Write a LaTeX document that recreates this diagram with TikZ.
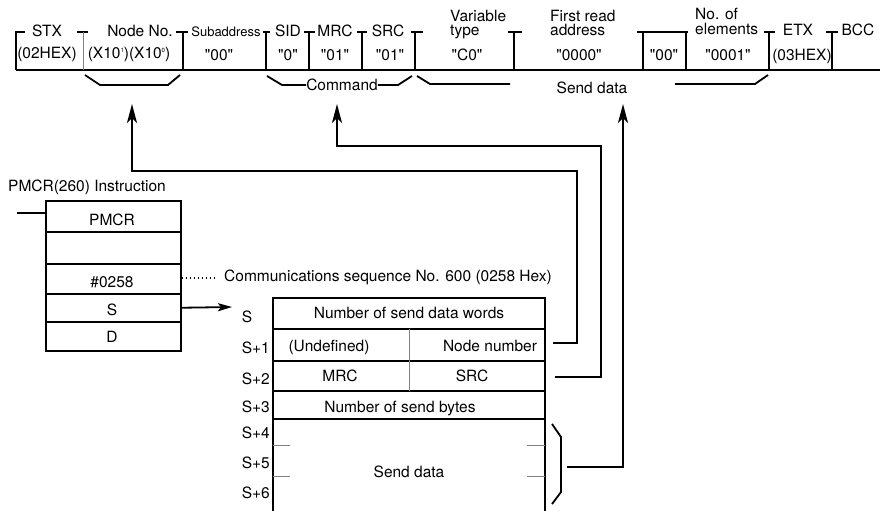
\documentclass[tikz,border=0pt]{standalone}
\usepackage{fontspec}
\setmainfont{TeX Gyre Heros}[Ligatures=TeXOff]
\usetikzlibrary{arrows.meta}
\begin{document}
\begin{tikzpicture}[x=1pt,y=-1pt,
  every node/.style={font=\fontsize{15.5}{18}\selectfont, inner sep=0pt, anchor=base},
  small/.style={font=\fontsize{13}{15}\selectfont},
  frame/.style={line width=1.7pt},
  sep/.style={line width=1.3pt},
  gsep/.style={line width=1pt, draw=gray},
  brace/.style={line width=1.8pt},
  conn/.style={line width=2.2pt, -{Stealth[length=19pt,width=10pt,inset=5pt]}},
  sarrow/.style={line width=1.8pt, -{Stealth[length=14pt,width=8pt,inset=3pt]}},
  cellbox/.style={draw, line width=1.5pt, minimum width=135pt, anchor=north west},
  tbl/.style={line width=1.6pt},
  rowline/.style={line width=1.2pt},
]
\useasboundingbox (0,0) rectangle (883,511);

% ---------- frame header ----------
\draw[frame] (16,70) -- (880,70);
\draw[sep] (25,32) -- (16,32) -- (16,70);
\draw[sep] (77,32) -- (88,32);
\draw[gsep] (83,32) -- (83,70);
\foreach \x/\a/\b in {183/176/188, 266/263/270, 309/304/315, 362/357/367,
                      415/411/423, 514/508/522, 769/764/775, 832/826/838}
  \draw[sep] (\a,32) -- (\b,32) (\x,32) -- (\x,70);
\draw[sep] (637,32) -- (688,32) (643,32) -- (643,70) (686,32) -- (686,70);

\node (stx) at (47,37) {STX};
\node (nodeno) at (140,37) {Node No.};
\node[small] (subad) at (226,37) {Subaddress};
\node (sid) at (288,37) {SID};
\node (mrch) at (335,37) {MRC};
\node (srch) at (388,37) {SRC};
\node[anchor=base west] (var1) at (450,22) {Variable};
\node[anchor=base west] (var2) at (450,36) {type};
\node[anchor=base west] (fra1) at (550,22) {First read};
\node[anchor=base west] (fra2) at (550,36) {address};
\node[anchor=base west] (noe1) at (695,20) {No. of};
\node[anchor=base west] (noe2) at (695,35) {elements};
\node (etx) at (798,36) {ETX};
\node (bcc) at (858,36) {BCC};

\node (v02) at (47,59) {(02HEX)};
\node (vnode) at (129,59) {(X10\raisebox{0.75ex}{\fontsize{6}{6}\selectfont 1})(X10\raisebox{0.75ex}{\fontsize{6}{6}\selectfont 0})};
\node (vsub) at (219,60) {"00"};
\node (vsid) at (288,60) {"0"};
\node (vmrc) at (335,60) {"01"};
\node (vsrc) at (390,60) {"01"};
\node (vvar) at (467,61) {"C0"};
\node (vaddr) at (579,61) {"0000"};
\node (v00) at (664,61) {"00"};
\node (vnoe) at (728,61) {"0001"};
\node (v03) at (802,60) {(03HEX)};

% ---------- under-braces ----------
\draw[brace] (85,75) -- (100,85) -- (168,85) -- (180,75);
\node[anchor=center] (cmd) at (342,85) {Command};
\draw[brace] (267,76) -- (282,85) -- (cmd.west);
\draw[brace] (cmd.east) -- (398,85) -- (412,76);
\draw[brace] (417,76) -- (430,84) -- (510,84);
\node[anchor=center] (sdh) at (592,88) {Send data};
\draw[brace] (675,84) -- (755,84) -- (768,75);

% ---------- PMCR instruction ----------
\node[anchor=base west] (pmcrtitle) at (8,191) {PMCR(260) Instruction};
\node[cellbox, minimum height=31pt] (p0) at (45,200) {};
\node[cellbox, minimum height=32pt] (p1) at (45,231) {};
\node[cellbox, minimum height=30pt] (p2) at (45,263) {};
\node[cellbox, minimum height=28pt] (p3) at (45,293) {};
\node[cellbox, minimum height=29pt] (p4) at (45,321) {};
\node (tpmcr) at (112,225) {PMCR};
\node (t0258) at (112,287) {\#0258};
\node (ts) at (112,315) {S};
\node (td) at (112,342) {D};
\coordinate (inl) at (17,213);
\draw[frame] (inl) -- (inl -| p0.west);
\coordinate (dotend) at (215,278);
\draw[line width=1.3pt, dash pattern=on 1.5pt off 2.5pt] (p2.east |- dotend) -- (dotend);
\node[anchor=base west] (comm) at (224,281) {Communications sequence No. 600 (0258 Hex)};
\coordinate (stip) at (232,307);
\draw[sarrow] (p3.east) -- (stip);

% ---------- data table ----------
\draw[tbl] (273,511) -- (273,298) -- (545,298) -- (545,511);
\draw[rowline] (273,329) -- (545,329) (273,361) -- (545,361)
               (273,391) -- (545,391) (273,419) -- (545,419);
\draw[gsep] (409,329) -- (409,391);
\draw[gsep] (273,445) -- (290,445) (273,476) -- (290,476)
            (527,445) -- (545,445) (527,476) -- (545,476);

\node (r0) at (409,318.5) {Number of send data words};
\node (und) at (329,351) {(Undefined)};
\node (nn) at (490,351) {Node number};
\node (mrc) at (340,381) {MRC};
\node (src) at (472,381) {SRC};
\node (nsb) at (400,412.5) {Number of send bytes};
\node (sd) at (409,477.5) {Send data};

\node (ls) at (247,322) {S};
\node[anchor=base east] (ls1) at (270,353) {S+1};
\node[anchor=base east] (ls2) at (270,384) {S+2};
\node[anchor=base east] (ls3) at (270,412) {S+3};
\node[anchor=base east] (ls4) at (270,438) {S+4};
\node[anchor=base east] (ls5) at (270,468) {S+5};
\node[anchor=base east] (ls6) at (270,498) {S+6};

\draw[brace] (552,424) -- (561,437) -- (561,492) -- (552,504);

% ---------- connectors ----------
\coordinate (n1) at (553,343);
\coordinate (n2) at (555,377);
\coordinate (n3) at (567,467);
\coordinate (a1) at (132,104);
\coordinate (a2) at (337,104);
\coordinate (a3) at (623,104);
\draw[conn] (n1) -| (577,171) -| (a1);
\draw[conn] (n2) -| (601,146) -| (a2);
\draw[conn] (n3) -| (a3);
\end{tikzpicture}
\end{document}
